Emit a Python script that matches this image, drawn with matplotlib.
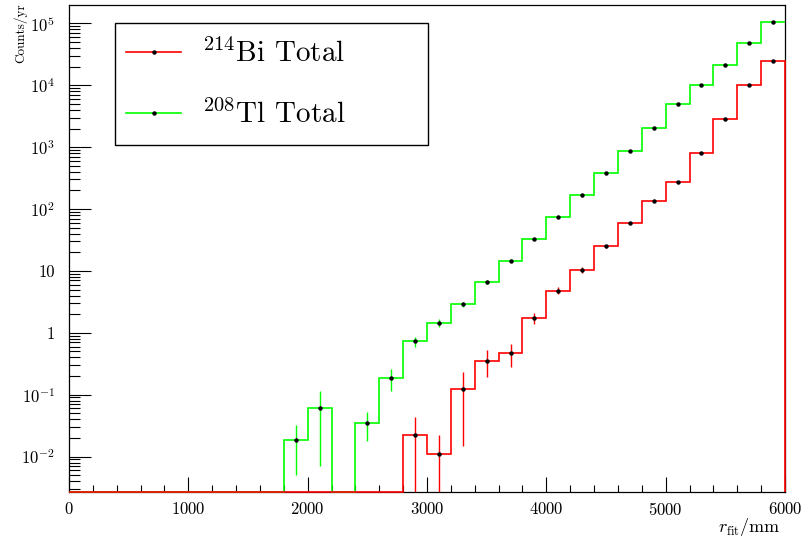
import numpy as np
import matplotlib
matplotlib.use("Agg")
import matplotlib.pyplot as plt
from matplotlib.lines import Line2D
from matplotlib.patches import Rectangle
from matplotlib.ticker import LogLocator, FuncFormatter, MultipleLocator, NullFormatter

plt.rcParams['font.family'] = 'cmr10'
plt.rcParams['mathtext.fontset'] = 'cm'
plt.rcParams['axes.formatter.use_mathtext'] = True

# bin edges of r_fit (mm), 200 mm bins
edges = np.arange(0, 6001, 200)

# 208Tl total (counts/yr), one value per bin
tl_vals = [0, 0, 0, 0, 0, 0, 0, 0, 0,
           0.0186, 0.061, 0, 0.035, 0.186, 0.73, 1.44, 2.9, 6.6, 14.5, 32.7,
           73, 167, 378, 861, 2060, 4920, 10100, 20900, 48600, 106000]
tl_errs = [0, 0, 0, 0, 0, 0, 0, 0, 0,
           0.0135, 0.054, 0, 0.017, 0.07, 0.13, 0.2, 0.3, 0.5, 0.8, 1.3,
           2.2, 3.5, 6, 10, 16, 25, 40, 60, 100, 150]

# 214Bi total (counts/yr)
bi_vals = [0, 0, 0, 0, 0, 0, 0, 0, 0, 0, 0, 0, 0, 0,
           0.0222, 0.0108, 0.125, 0.356, 0.47, 1.73, 4.8, 10.4, 24.8, 59,
           133, 278, 811, 2880, 10000, 24500]
bi_errs = [0, 0, 0, 0, 0, 0, 0, 0, 0, 0, 0, 0, 0, 0,
           0.021, 0.0117, 0.11, 0.165, 0.19, 0.33, 0.6, 1.0, 1.7, 2.5,
           4, 6, 10, 20, 40, 60]

YLO, YHI = 2.7e-3, 1.98e5


def draw_hist(ax, vals, errs, color, drop_right):
    vals = np.array(vals, dtype=float)
    errs = np.array(errs, dtype=float)
    shown = np.maximum(vals, YLO)
    ax.stairs(shown, edges, baseline=YLO if drop_right else None,
              color=color, lw=1.2, clip_on=False, zorder=3)
    centers = 0.5 * (edges[:-1] + edges[1:])
    m = vals > 0
    lo = np.maximum(vals[m] - errs[m], YLO)
    hi = vals[m] + errs[m]
    ax.vlines(centers[m], lo, hi, color=color, lw=1.0, zorder=3)
    ax.plot(centers[m], vals[m], 'o', color='k', ms=2.2, zorder=4)


fig = plt.figure(figsize=(8.07, 5.40), dpi=100)
ax = fig.add_axes([0.0855, 0.0894, 0.8872, 0.9013])

draw_hist(ax, tl_vals, tl_errs, '#00ff00', False)
draw_hist(ax, bi_vals, bi_errs, '#ff0000', True)

ax.set_yscale('log')
ax.set_xlim(0, 6000)
ax.set_ylim(YLO, YHI)


def ylab(v, pos):
    n = int(round(np.log10(v)))
    if n == 0:
        return '1'
    if n == 1:
        return '10'
    return r'$10^{%d}$' % n


ax.yaxis.set_major_locator(LogLocator(base=10, numticks=20))
ax.yaxis.set_minor_locator(LogLocator(base=10, subs=np.arange(2, 10), numticks=20))
ax.yaxis.set_major_formatter(FuncFormatter(ylab))
ax.yaxis.set_minor_formatter(NullFormatter())
ax.xaxis.set_major_locator(MultipleLocator(1000))
ax.xaxis.set_minor_locator(MultipleLocator(200))

ax.tick_params(axis='x', which='major', direction='in', length=10.5, width=0.8, pad=7, labelsize=12)
ax.tick_params(axis='x', which='minor', direction='in', length=5.3, width=0.8)
ax.tick_params(axis='y', which='major', direction='in', length=15.5, width=0.8, pad=10, labelsize=12)
ax.tick_params(axis='y', which='minor', direction='in', length=7.7, width=0.8)
for s in ax.spines.values():
    s.set_linewidth(0.9)

ax.set_ylabel('Counts/yr', fontsize=9.5, loc='top')
ax.yaxis.set_label_coords(-0.059, 1.004)
ax.set_xlabel(r'$r_{\rm fit}$/mm', fontsize=13, loc='right')
ax.xaxis.set_label_coords(0.993, -0.05)

# legend box (fixed size, like the ROOT TLegend)
ax.add_patch(Rectangle((0.0642, 0.7124), 0.4368, 0.2506, transform=ax.transAxes,
                       facecolor='white', edgecolor='k', lw=1.0, zorder=5))
handles = [Line2D([], [], color='#ff0000', lw=1.2, marker='o', ms=2.2, mfc='k', mec='k'),
           Line2D([], [], color='#00ff00', lw=1.2, marker='o', ms=2.2, mfc='k', mec='k')]
labels = [r'$^{214}$Bi Total', r'$^{208}$Tl Total']
leg = ax.legend(handles, labels, loc='upper left', bbox_to_anchor=(0.0796, 0.931),
                fontsize=21, frameon=False, handlelength=1.9, handletextpad=0.7,
                labelspacing=1.1, borderpad=0, borderaxespad=0)
leg.set_zorder(6)

fig.savefig('out.png', dpi=100)
